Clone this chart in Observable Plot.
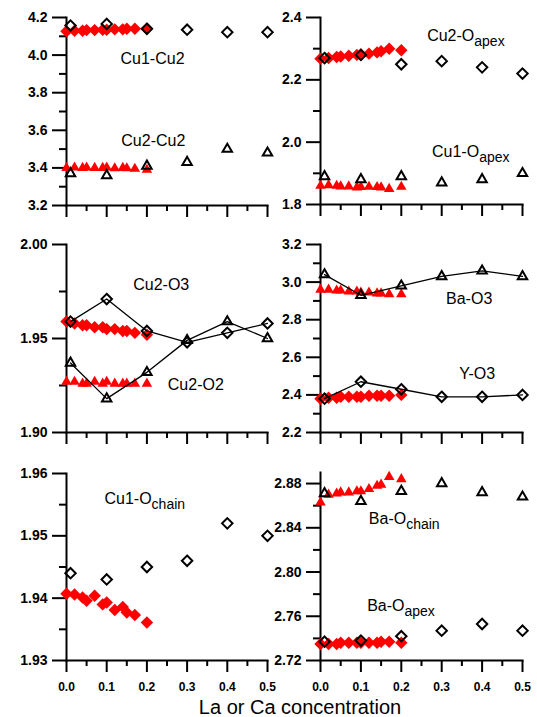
<!DOCTYPE html>
<html>
<head>
<meta charset="utf-8">
<script src="https://cdn.jsdelivr.net/npm/d3@7"></script>
<script src="https://cdn.jsdelivr.net/npm/@observablehq/plot@0.6"></script>
<style>
  body { margin: 0; background: #fff; }
  #chart { position: relative; width: 537px; height: 717px; font-family: "Liberation Sans", Arial, sans-serif; }
  #chart svg { position: absolute; left: 0; top: 0; background: transparent !important; overflow: visible; max-width: none !important; }
  #xtitle { position: absolute; left: 100px; width: 400px; top: 697px; text-align: center; font-size: 20px; line-height: 20px; color: #000; }
</style>
</head>
<body>
<div id="chart"><div id="xtitle">La or Ca concentration</div></div>
<script>
// ---------- data ----------
const xBlack = [0.01, 0.1, 0.2, 0.3, 0.4, 0.5];
const xRed = [0, 0.02, 0.04, 0.05, 0.07, 0.09, 0.10, 0.12, 0.14, 0.15, 0.17, 0.20];
const xDomain = [0, 0.5];
const xTicks = [0, 0.1, 0.2, 0.3, 0.4, 0.5];
const xTickLabels = ["0.0", "0.1", "0.2", "0.3", "0.4", "0.5"];
const xMinor = [0.05, 0.15, 0.25, 0.35, 0.45];

// panel 1 (top left)
const cu1cu2Black = [4.157, 4.166, 4.140, 4.135, 4.122, 4.122];
const cu1cu2Red = [4.127, 4.130, 4.130, 4.133, 4.133, 4.135, 4.135, 4.137, 4.137, 4.140, 4.140, 4.140];
const cu2cu2Black = [3.37, 3.36, 3.41, 3.43, 3.50, 3.48];
const cu2cu2Red = [3.400, 3.402, 3.400, 3.402, 3.400, 3.400, 3.402, 3.398, 3.400, 3.398, 3.395, 3.390];
const y1Domain = [3.2, 4.2];
const y1Ticks = [3.2, 3.4, 3.6, 3.8, 4.0, 4.2];
const y1Labels = ["3.2", "3.4", "3.6", "3.8", "4.0", "4.2"];
const y1Minor = [3.3, 3.5, 3.7, 3.9, 4.1];

// panel 2 (top right)
const cu2OapexBlack = [2.27, 2.28, 2.25, 2.26, 2.24, 2.22];
const cu2OapexRed = [2.268, 2.270, 2.273, 2.275, 2.277, 2.280, 2.281, 2.284, 2.288, 2.292, 2.300, 2.295];
const cu1OapexBlack = [1.89, 1.88, 1.89, 1.87, 1.88, 1.90];
const cu1OapexRed = [1.860, 1.862, 1.860, 1.858, 1.858, 1.855, 1.856, 1.857, 1.856, 1.855, 1.850, 1.857];
const y2Domain = [1.8, 2.4];
const y2Ticks = [1.8, 2.0, 2.2, 2.4];
const y2Labels = ["1.8", "2.0", "2.2", "2.4"];
const y2Minor = [1.9, 2.1, 2.3];

// panel 3 (middle left)
const cu2O3Black = [1.959, 1.971, 1.954, 1.948, 1.953, 1.958];
const cu2O3Red = [1.959, 1.958, 1.957, 1.957, 1.956, 1.956, 1.955, 1.955, 1.954, 1.954, 1.953, 1.952];
const cu2O2Black = [1.937, 1.918, 1.932, 1.949, 1.959, 1.950];
const cu2O2Red = [1.927, 1.927, 1.926, 1.926, 1.927, 1.926, 1.927, 1.926, 1.926, 1.926, 1.926, 1.926];
const y3Domain = [1.90, 2.00];
const y3Ticks = [1.90, 1.95, 2.00];
const y3Labels = ["1.90", "1.95", "2.00"];
const y3Minor = [1.925, 1.975];

// panel 4 (middle right)
const baO3Black = [3.04, 2.93, 2.98, 3.03, 3.06, 3.03];
const baO3Red = [2.960, 2.960, 2.955, 2.955, 2.950, 2.950, 2.945, 2.945, 2.940, 2.940, 2.935, 2.935];
const yO3Black = [2.38, 2.47, 2.43, 2.39, 2.39, 2.40];
const yO3Red = [2.380, 2.385, 2.385, 2.390, 2.390, 2.390, 2.390, 2.395, 2.395, 2.395, 2.395, 2.400];
const y4Domain = [2.2, 3.2];
const y4Ticks = [2.2, 2.4, 2.6, 2.8, 3.0, 3.2];
const y4Labels = ["2.2", "2.4", "2.6", "2.8", "3.0", "3.2"];
const y4Minor = [2.3, 2.5, 2.7, 2.9, 3.1];

// panel 5 (bottom left)
const cu1OchainBlack = [1.944, 1.943, 1.945, 1.946, 1.952, 1.950];
const cu1OchainRed = [1.9407, 1.9406, 1.9401, 1.9396, 1.9404, 1.9390, 1.9393, 1.9381, 1.9386, 1.9377, 1.9373, 1.9361];
const y5Domain = [1.93, 1.96];
const y5Ticks = [1.93, 1.94, 1.95, 1.96];
const y5Labels = ["1.93", "1.94", "1.95", "1.96"];
const y5Minor = [1.935, 1.945, 1.955];

// panel 6 (bottom right)
const baOchainBlack = [2.871, 2.864, 2.873, 2.880, 2.872, 2.868];
const baOchainRed = [2.863, 2.870, 2.871, 2.872, 2.872, 2.873, 2.873, 2.875, 2.878, 2.879, 2.886, 2.884];
const baOapexBlack = [2.737, 2.738, 2.742, 2.747, 2.753, 2.747];
const baOapexRed = [2.735, 2.735, 2.735, 2.736, 2.736, 2.736, 2.736, 2.736, 2.736, 2.737, 2.737, 2.736];
const y6Domain = [2.72, 2.89];
const y6Ticks = [2.72, 2.76, 2.80, 2.84, 2.88];
const y6Labels = ["2.72", "2.76", "2.80", "2.84", "2.88"];
const y6Minor = [2.74, 2.78, 2.82, 2.86];

// series labels ("|" marks a subscript)
const labels1 = [{x: 0.214, y: 3.982, t: "Cu1-Cu2", a: "middle"}, {x: 0.216, y: 3.546, t: "Cu2-Cu2", a: "middle"}];
const labels2 = [{x: 0.264, y: 2.340, t: "Cu2-O|apex", a: "start"}, {x: 0.276, y: 1.968, t: "Cu1-O|apex", a: "start"}];
const labels3 = [{x: 0.2356, y: 1.9784, t: "Cu2-O3", a: "middle"}, {x: 0.3217, y: 1.9252, t: "Cu2-O2", a: "middle"}];
const labels4 = [{x: 0.368, y: 2.909, t: "Ba-O3", a: "middle"}, {x: 0.388, y: 2.512, t: "Y-O3", a: "middle"}];
const labels5 = [{x: 0.0945, y: 1.95586, t: "Cu1-O|chain", a: "start"}];
const labels6 = [{x: 0.1196, y: 2.8485, t: "Ba-O|chain", a: "start"}, {x: 0.1155, y: 2.769, t: "Ba-O|apex", a: "start"}];

// ---------- drawing ----------
const W = 537, H = 717;
const RED = "#ff0000";
const FONT = '"Liberation Sans", Arial, sans-serif';
const chart = document.getElementById("chart");

function redDiamonds(vals) {
  return Plot.dot(xRed, {x: d => d, y: (d, i) => vals[i], symbol: "diamond2", fill: RED, stroke: "none", r: 5.6});
}
function redTriangles(vals) {
  return Plot.dot(xRed, {x: d => d, y: (d, i) => vals[i], symbol: "triangle", fill: RED, stroke: "none", r: 3.9});
}
function blackDiamonds(vals) {
  return Plot.dot(xBlack, {x: d => d, y: (d, i) => vals[i], symbol: "diamond2", fill: "none", stroke: "black", strokeWidth: 2, r: 4.7});
}
function blackTriangles(vals) {
  return Plot.dot(xBlack, {x: d => d, y: (d, i) => vals[i], symbol: "triangle", fill: "none", stroke: "black", strokeWidth: 2, r: 3.5});
}
function blackLine(vals) {
  return Plot.line(xBlack, {x: d => d, y: (d, i) => vals[i], stroke: "black", strokeWidth: 1.3});
}
function seriesLabels(list) {
  return [
    Plot.text(list.filter(d => d.a === "middle"), {x: "x", y: "y", text: "t", textAnchor: "middle", lineAnchor: "middle", fontSize: 16, fill: "black"}),
    Plot.text(list.filter(d => d.a === "start"), {x: "x", y: "y", text: "t", textAnchor: "start", lineAnchor: "middle", fontSize: 16, fill: "black"})
  ];
}

function panel(cfg) {
  const common = {
    width: W, height: H,
    marginLeft: cfg.px[0], marginRight: W - cfg.px[1],
    marginTop: cfg.py[0], marginBottom: H - cfg.py[1],
    style: {background: "transparent", overflow: "visible", fontFamily: FONT, color: "black"}
  };
  const yLab = new Map(cfg.yTicks.map((v, i) => [v, cfg.yLabels[i]]));
  const xLab = new Map(xTicks.map((v, i) => [v, xTickLabels[i]]));
  const minor = Plot.plot({
    ...common,
    x: {domain: xDomain, ticks: xMinor, tickSize: 6, tickFormat: () => "", label: null},
    y: {domain: cfg.yDomain, ticks: cfg.yMinor, tickSize: 7, tickFormat: () => "", label: null},
    marks: [Plot.ruleX(xDomain, {stroke: "none"}), Plot.ruleY(cfg.yDomain, {stroke: "none"})]
  });
  const major = Plot.plot({
    ...common,
    x: {domain: xDomain, ticks: xTicks, tickSize: 12, tickPadding: 10,
        tickFormat: cfg.xLabels ? d => xLab.get(d) : () => "", line: true, label: null},
    y: {domain: cfg.yDomain, ticks: cfg.yTicks, tickSize: 14, tickPadding: 5,
        tickFormat: d => yLab.get(d), line: true, label: null},
    marks: [...cfg.marks, ...seriesLabels(cfg.labels)]
  });
  for (const svg of [minor, major]) {
    // axis ticks and axis lines: 2px
    svg.querySelectorAll("path, line").forEach(el => {
      const g = el.closest("g[aria-label]");
      const lab = g ? g.getAttribute("aria-label") : "";
      if (!g || /axis/.test(lab)) el.style.strokeWidth = "2px";
    });
    // tick labels: bold
    svg.querySelectorAll("text").forEach(el => {
      if (el.closest('g[aria-label="text"]')) return;
      const s = el.textContent;
      el.style.fontWeight = "bold";
      el.style.fontFamily = FONT;
      el.style.fontSize = xTickLabels.includes(s) ? "12px" : "14px";
    });
    // subscripts in series labels
    d3.select(svg).selectAll('g[aria-label="text"] text').each(function () {
      const s = this.textContent;
      if (s.includes("|")) {
        const [a, b] = s.split("|");
        this.textContent = "";
        d3.select(this).append("tspan").text(a);
        d3.select(this).append("tspan").attr("dy", 5).attr("font-size", 14).text(b);
      }
    });
    chart.appendChild(svg);
  }
}

const L = [66, 267], R = [320, 522];

panel({px: L, py: [17, 205], yDomain: y1Domain, yTicks: y1Ticks, yLabels: y1Labels, yMinor: y1Minor, xLabels: false,
  labels: labels1,
  marks: [redDiamonds(cu1cu2Red), redTriangles(cu2cu2Red), blackDiamonds(cu1cu2Black), blackTriangles(cu2cu2Black)]});

panel({px: R, py: [17, 204], yDomain: y2Domain, yTicks: y2Ticks, yLabels: y2Labels, yMinor: y2Minor, xLabels: false,
  labels: labels2,
  marks: [redDiamonds(cu2OapexRed), redTriangles(cu1OapexRed), blackDiamonds(cu2OapexBlack), blackTriangles(cu1OapexBlack)]});

panel({px: L, py: [244, 432], yDomain: y3Domain, yTicks: y3Ticks, yLabels: y3Labels, yMinor: y3Minor, xLabels: false,
  labels: labels3,
  marks: [redDiamonds(cu2O3Red), redTriangles(cu2O2Red), blackLine(cu2O3Black), blackLine(cu2O2Black),
          blackDiamonds(cu2O3Black), blackTriangles(cu2O2Black)]});

panel({px: R, py: [244, 432], yDomain: y4Domain, yTicks: y4Ticks, yLabels: y4Labels, yMinor: y4Minor, xLabels: false,
  labels: labels4,
  marks: [redTriangles(baO3Red), redDiamonds(yO3Red), blackLine(baO3Black), blackLine(yO3Black),
          blackTriangles(baO3Black), blackDiamonds(yO3Black)]});

panel({px: L, py: [473, 660], yDomain: y5Domain, yTicks: y5Ticks, yLabels: y5Labels, yMinor: y5Minor, xLabels: true,
  labels: labels5,
  marks: [redDiamonds(cu1OchainRed), blackDiamonds(cu1OchainBlack)]});

panel({px: R, py: [472, 660], yDomain: y6Domain, yTicks: y6Ticks, yLabels: y6Labels, yMinor: y6Minor, xLabels: true,
  labels: labels6,
  marks: [redTriangles(baOchainRed), redDiamonds(baOapexRed), blackTriangles(baOchainBlack), blackDiamonds(baOapexBlack)]});
</script>
</body>
</html>
